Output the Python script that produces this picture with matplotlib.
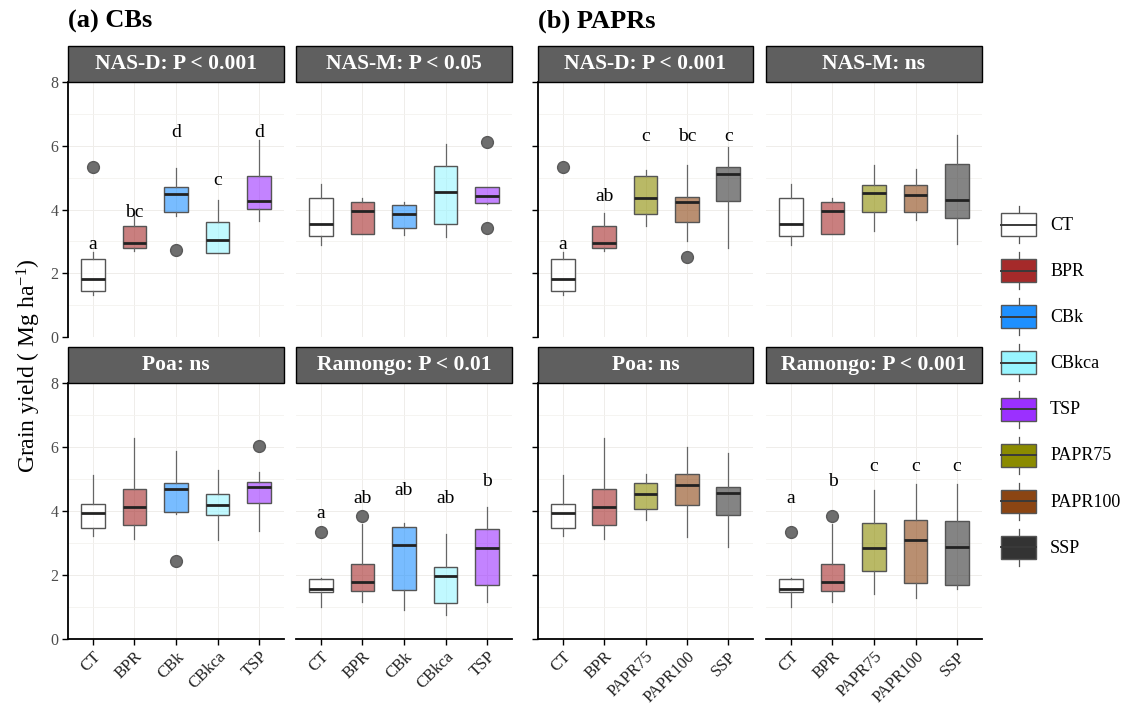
import matplotlib
matplotlib.use("Agg")
import matplotlib.pyplot as plt
from matplotlib.patches import Rectangle, Patch
from matplotlib.lines import Line2D
from matplotlib.legend_handler import HandlerBase
from matplotlib.colors import to_rgba
from matplotlib.ticker import MultipleLocator

plt.rcParams['font.family'] = ['Liberation Serif', 'DejaVu Serif']
plt.rcParams['mathtext.fontset'] = 'custom'
plt.rcParams['mathtext.rm'] = 'Liberation Serif'
plt.rcParams['mathtext.it'] = 'Liberation Serif:italic'
plt.rcParams['mathtext.bf'] = 'Liberation Serif:bold'

# ---------------- data ----------------
cats_a = ["CT", "BPR", "CBk", "CBkca", "TSP"]
cats_b = ["CT", "BPR", "PAPR75", "PAPR100", "SSP"]
legend_labels = ["CT", "BPR", "CBk", "CBkca", "TSP", "PAPR75", "PAPR100", "SSP"]
legend_colors = ["#FFFFFF", "#A52A2A", "#1E90FF", "#98F5FF", "#9B30FF",
                 "#8B8B00", "#8B4513", "#333333"]

# box stats per category: (whisker low, Q1, median, Q3, whisker high)
a_nasd_box = [(1.33, 1.43, 1.83, 2.46, 2.67), (2.70, 2.79, 2.96, 3.47, 3.90),
              (3.80, 3.93, 4.49, 4.71, 5.31), (2.62, 2.62, 3.03, 3.61, 4.31),
              (3.63, 4.02, 4.26, 5.05, 6.19)]
a_nasd_out = [[5.33], [], [2.72], [], []]
a_nasd_let = ["a", "bc", "d", "c", "d"]
a_nasd_let_y = [2.77, 3.77, 6.28, 4.78, 6.28]

a_nasm_box = [(2.90, 3.18, 3.55, 4.37, 4.81), (3.24, 3.24, 3.96, 4.25, 4.37),
              (3.19, 3.43, 3.86, 4.15, 4.25), (3.14, 3.53, 4.56, 5.37, 6.04),
              (4.18, 4.21, 4.41, 4.71, 4.71)]
a_nasm_out = [[], [], [], [], [6.12, 3.43]]

a_poa_box = [(3.23, 3.46, 3.95, 4.21, 5.13), (3.12, 3.57, 4.11, 4.68, 6.28),
             (3.91, 3.98, 4.69, 4.89, 5.88), (3.08, 3.87, 4.19, 4.53, 5.29),
             (3.38, 4.26, 4.75, 4.92, 5.22)]
a_poa_out = [[], [], [2.45], [], [6.02]]

a_ram_box = [(1.01, 1.48, 1.55, 1.88, 1.92), (1.17, 1.50, 1.79, 2.34, 3.60),
             (0.91, 1.53, 2.95, 3.49, 3.64), (0.75, 1.12, 1.98, 2.26, 3.27),
             (1.17, 1.68, 2.83, 3.44, 4.11)]
a_ram_out = [[3.33], [3.83], [], [], []]
a_ram_let = ["a", "ab", "ab", "ab", "b"]
a_ram_let_y = [3.77, 4.26, 4.50, 4.26, 4.79]

b_nasd_box = [(1.33, 1.43, 1.83, 2.46, 2.67), (2.70, 2.79, 2.96, 3.47, 3.90),
              (3.48, 3.85, 4.36, 5.04, 5.23), (3.00, 3.61, 4.22, 4.38, 5.39),
              (2.79, 4.26, 5.10, 5.32, 5.96)]
b_nasd_out = [[5.33], [], [], [2.51], []]
b_nasd_let = ["a", "ab", "c", "bc", "c"]
b_nasd_let_y = [2.77, 4.27, 6.15, 6.15, 6.15]

b_nasm_box = [(2.90, 3.18, 3.55, 4.37, 4.81), (3.24, 3.24, 3.96, 4.25, 4.37),
              (3.33, 3.91, 4.52, 4.76, 5.41), (3.68, 3.91, 4.47, 4.76, 5.26),
              (2.92, 3.74, 4.30, 5.44, 6.35)]
b_nasm_out = [[], [], [], [], []]

b_poa_box = [(3.23, 3.46, 3.95, 4.21, 5.13), (3.12, 3.57, 4.11, 4.68, 6.28),
             (3.72, 4.06, 4.53, 4.87, 5.16), (3.20, 4.18, 4.80, 5.15, 5.99),
             (2.86, 3.87, 4.55, 4.75, 5.81)]
b_poa_out = [[], [], [], [], []]

b_ram_box = [(1.01, 1.48, 1.55, 1.88, 1.92), (1.17, 1.50, 1.79, 2.34, 3.60),
             (1.40, 2.12, 2.83, 3.62, 4.66), (1.27, 1.74, 3.09, 3.71, 4.84),
             (1.55, 1.68, 2.87, 3.68, 4.84)]
b_ram_out = [[3.33], [3.83], [], [], []]
b_ram_let = ["a", "b", "c", "c", "c"]
b_ram_let_y = [4.24, 4.79, 5.26, 5.26, 5.26]

strip_titles = {
    "a_nasd": "NAS-D: P < 0.001", "a_nasm": "NAS-M: P < 0.05",
    "a_poa": "Poa: ns", "a_ram": "Ramongo: P < 0.01",
    "b_nasd": "NAS-D: P < 0.001", "b_nasm": "NAS-M: ns",
    "b_poa": "Poa: ns", "b_ram": "Ramongo: P < 0.001",
}

# ---------------- figure ----------------
W, H = 1135, 706
fig = plt.figure(figsize=(W / 100, H / 100), dpi=100)

col_x = [(68, 284), (296, 512), (538, 753), (766, 982)]
row_y = [(82, 337), (383, 639)]
strip_h = 36

color_map = dict(zip(legend_labels, legend_colors))


def make_ax(col, row):
    x0, x1 = col_x[col]
    y0, y1 = row_y[row]
    return fig.add_axes([x0 / W, 1 - y1 / H, (x1 - x0) / W, (y1 - y0) / H])


panels = [
    (0, 0, "a_nasd", cats_a, a_nasd_box, a_nasd_out, a_nasd_let, a_nasd_let_y),
    (1, 0, "a_nasm", cats_a, a_nasm_box, a_nasm_out, None, None),
    (0, 1, "a_poa", cats_a, a_poa_box, a_poa_out, None, None),
    (1, 1, "a_ram", cats_a, a_ram_box, a_ram_out, a_ram_let, a_ram_let_y),
    (2, 0, "b_nasd", cats_b, b_nasd_box, b_nasd_out, b_nasd_let, b_nasd_let_y),
    (3, 0, "b_nasm", cats_b, b_nasm_box, b_nasm_out, None, None),
    (2, 1, "b_poa", cats_b, b_poa_box, b_poa_out, None, None),
    (3, 1, "b_ram", cats_b, b_ram_box, b_ram_out, b_ram_let, b_ram_let_y),
]

for col, row, key, cats, box, out, lets, lety in panels:
    ax = make_ax(col, row)
    pos = list(range(1, len(cats) + 1))
    stats = []
    for c, b, o in zip(cats, box, out):
        stats.append(dict(label=c, whislo=b[0], q1=b[1], med=b[2], q3=b[3],
                          whishi=b[4], fliers=o))
    bp = ax.bxp(stats, positions=pos, widths=0.57, patch_artist=True,
                showcaps=False, manage_ticks=False,
                boxprops=dict(edgecolor="#555555", linewidth=1.0),
                medianprops=dict(color="#222222", linewidth=2.0),
                whiskerprops=dict(color="#666666", linewidth=0.9),
                flierprops=dict(marker="o", markerfacecolor="#6E6E6E",
                                markeredgecolor="#5A5A5A", markersize=8.5,
                                linestyle="none"))
    for patch, c in zip(bp["boxes"], cats):
        patch.set_facecolor(to_rgba(color_map[c], 0.6))
    for el in bp["boxes"] + bp["medians"] + bp["whiskers"] + bp["fliers"]:
        el.set_zorder(3)

    if lets is not None:
        for p, t, yv in zip(pos, lets, lety):
            ax.text(p, yv, t, ha="center", va="baseline", fontsize=14, zorder=4)

    ax.set_xlim(0.4, len(cats) + 0.6)
    ax.set_ylim(0, 8)
    ax.set_xticks(pos)
    ax.yaxis.set_major_locator(MultipleLocator(2))
    ax.yaxis.set_minor_locator(MultipleLocator(1))
    ax.set_axisbelow(True)
    ax.grid(True, which="major", color="#EFEDEA", linewidth=0.7)
    ax.grid(True, which="minor", axis="y", color="#F4F2EF", linewidth=0.6)
    ax.tick_params(which="minor", length=0)
    for s in ["top", "right"]:
        ax.spines[s].set_visible(False)

    # y axis
    if col in (0, 2):
        ax.spines["left"].set_color("black")
        ax.spines["left"].set_linewidth(1.3)
        ax.tick_params(axis="y", which="major", length=4, width=1.0,
                       color="black", labelsize=11.5, labelcolor="#4D4D4D", pad=3)
        if col == 2:
            ax.tick_params(axis="y", labelleft=False)
    else:
        ax.spines["left"].set_visible(False)
        ax.tick_params(axis="y", which="major", length=0, labelleft=False)

    # x axis
    if row == 1:
        ax.spines["bottom"].set_color("black")
        ax.spines["bottom"].set_linewidth(1.3)
        ax.tick_params(axis="x", length=4, width=1.0, color="black", pad=3)
        ax.set_xticklabels(cats, rotation=45, ha="right",
                           rotation_mode="anchor", fontsize=12, color="#222222")
    else:
        ax.spines["bottom"].set_visible(False)
        ax.tick_params(axis="x", length=0, labelbottom=False)

    # strip
    sh = strip_h / (row_y[row][1] - row_y[row][0])
    ax.add_patch(Rectangle((0, 1), 1, sh, transform=ax.transAxes,
                           facecolor="#5F5F5F", edgecolor="black",
                           linewidth=1.0, clip_on=False, zorder=5))
    ax.text(0.5, 1 + sh / 2, strip_titles[key], transform=ax.transAxes,
            ha="center", va="center", color="white", fontsize=15.5,
            fontweight="bold", zorder=6)

# titles
fig.text(68 / W, 1 - 21 / H, "(a) CBs", fontsize=19, fontweight="bold",
         ha="left", va="center")
fig.text(538 / W, 1 - 21 / H, "(b) PAPRs", fontsize=19, fontweight="bold",
         ha="left", va="center")

# y label
fig.text(29 / W, 1 - 366 / H, "Grain yield ( Mg ha$^{-1}$)", rotation=90,
         fontsize=17, ha="center", va="center")


# legend
class BoxHandler(HandlerBase):
    def create_artists(self, legend, orig_handle, xdescent, ydescent,
                       width, height, fontsize, trans):
        fc = orig_handle.get_facecolor()
        bh = height * 0.62
        by = -ydescent + (height - bh) / 2
        x0 = -xdescent
        cx = x0 + width / 2
        w1 = Line2D([cx, cx], [-ydescent, by], color="#555555", lw=0.9,
                    transform=trans)
        w2 = Line2D([cx, cx], [by + bh, -ydescent + height], color="#555555",
                    lw=0.9, transform=trans)
        rect = Rectangle((x0, by), width, bh, facecolor=fc,
                         edgecolor="#555555", lw=1.0, transform=trans)
        med = Line2D([x0, x0 + width], [by + bh / 2] * 2, color="#3A3A3A",
                     lw=1.4, transform=trans)
        return [w1, w2, rect, med]


handles = [Patch(facecolor=c, label=l) for l, c in zip(legend_labels, legend_colors)]
fs = 13
fig.legend(handles=handles, labels=legend_labels, loc="center left",
           bbox_to_anchor=(1001 / W, 1 - 386 / H), frameon=False,
           fontsize=fs, handler_map={Patch: BoxHandler()},
           handlelength=1.94, handleheight=2.78,
           labelspacing=0.5, handletextpad=0.78,
           borderpad=0, borderaxespad=0)

fig.savefig("out.png", dpi=100)
